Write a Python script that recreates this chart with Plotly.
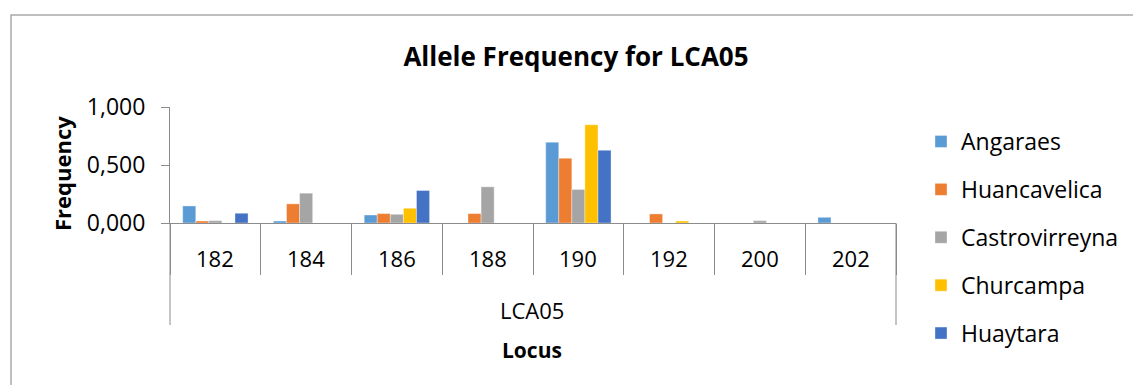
import plotly.graph_objects as go

# Allele sizes at locus LCA05 and frequency per population
alleles = ["182", "184", "186", "188", "190", "192", "200", "202"]
locus = "LCA05"
angaraes = [0.147, 0.017, 0.069, 0.0, 0.697, 0.0, 0.0, 0.049]
huancavelica = [0.017, 0.165, 0.081, 0.081, 0.558, 0.078, 0.0, 0.0]
castrovirreyna = [0.020, 0.257, 0.075, 0.312, 0.289, 0.0, 0.020, 0.0]
churcampa = [0.0, 0.0, 0.127, 0.0, 0.847, 0.017, 0.0, 0.0]
huaytara = [0.084, 0.0, 0.280, 0.0, 0.627, 0.0, 0.0, 0.0]

series = [
    ("Angaraes", angaraes, "#5B9BD5"),
    ("Huancavelica", huancavelica, "#ED7D31"),
    ("Castrovirreyna", castrovirreyna, "#A5A5A5"),
    ("Churcampa", churcampa, "#FFC000"),
    ("Huaytara", huaytara, "#4472C4"),
]
y_ticks = [0.0, 0.5, 1.0]
y_tick_text = ["0,000", "0,500", "1,000"]

FONT = "Open Sans"
AXIS_GREY = "#8C8C8C"

W, H = 1133, 385
L, R, T, B = 170, 237, 107, 162
plot_w = W - L - R
plot_h = H - T - B


def px_x(px):
    return (px - L) / plot_w


def px_y(py):
    return (H - B - py) / plot_h


fig = go.Figure()
for name, vals, color in series:
    fig.add_trace(go.Bar(
        x=alleles, y=vals, name=name, legendgroup=name,
        marker=dict(color=color, line=dict(color="rgba(255,255,255,0.6)", width=0.6)),
    ))

shapes = [
    # outer chart frame
    dict(type="rect", xref="paper", yref="paper",
         x0=px_x(11), x1=px_x(1140), y0=px_y(15), y1=px_y(395),
         line=dict(color="#ABABAB", width=1.5), layer="below"),
    # outer bounds of the multi-level category axis
    dict(type="line", xref="paper", yref="paper", x0=0, x1=0, y0=0, y1=px_y(325),
         line=dict(color=AXIS_GREY, width=1)),
    dict(type="line", xref="paper", yref="paper", x0=1, x1=1, y0=0, y1=px_y(325),
         line=dict(color=AXIS_GREY, width=1)),
]

annotations = [
    dict(text=locus, xref="paper", yref="paper", x=px_x(532), y=px_y(310),
         xanchor="center", yanchor="middle",
         showarrow=False, font=dict(family=FONT, size=22, color="#000")),
    dict(text="<b>Locus</b>", xref="paper", yref="paper", x=px_x(532), y=px_y(350),
         xanchor="center", yanchor="middle",
         showarrow=False, font=dict(family=FONT, size=21, color="#000")),
    dict(text="<b>Frequency</b>", xref="paper", yref="paper", x=px_x(62), y=px_y(174),
         xanchor="center", yanchor="middle",
         textangle=-90, showarrow=False, font=dict(family=FONT, size=22, color="#000")),
]
# category labels, placed by category index on the x axis
for i, a in enumerate(alleles):
    annotations.append(dict(text=a, x=i, xref="x", yref="paper", y=px_y(258),
                            xanchor="center", yanchor="middle",
                            showarrow=False, font=dict(family=FONT, size=22, color="#000")))

fig.update_layout(
    width=W, height=H,
    margin=dict(l=L, r=R, t=T, b=B, autoexpand=False),
    paper_bgcolor="white", plot_bgcolor="white",
    barmode="group", bargap=0.28, bargroupgap=0,
    font=dict(family=FONT, size=22, color="#000"),
    title=dict(text="<b>Allele Frequency for LCA05</b>", x=576 / W, xanchor="center",
               y=1 - 57 / H, yanchor="middle", font=dict(family=FONT, size=26, color="#000")),
    xaxis=dict(type="category", range=[-0.5, len(alleles) - 0.5], showticklabels=False,
               showline=True, linecolor=AXIS_GREY,
               linewidth=1, ticks="outside", tickson="boundaries", ticklen=51,
               tickcolor=AXIS_GREY, showgrid=False, zeroline=False),
    yaxis=dict(range=[0, 1.0], tickvals=y_ticks, ticktext=y_tick_text, showline=True,
               linecolor=AXIS_GREY, linewidth=1, ticks="outside", ticklen=8,
               tickcolor=AXIS_GREY, showgrid=False, zeroline=False,
               tickfont=dict(family=FONT, size=23), ticklabelstandoff=11),
    legend=dict(x=px_x(921), xanchor="left", y=px_y(120), yanchor="top",
                font=dict(family=FONT, size=23), tracegroupgap=15, maxheight=H,
                itemwidth=30, bgcolor="rgba(0,0,0,0)"),
    shapes=shapes, annotations=annotations,
)

fig.write_html("out.html")
